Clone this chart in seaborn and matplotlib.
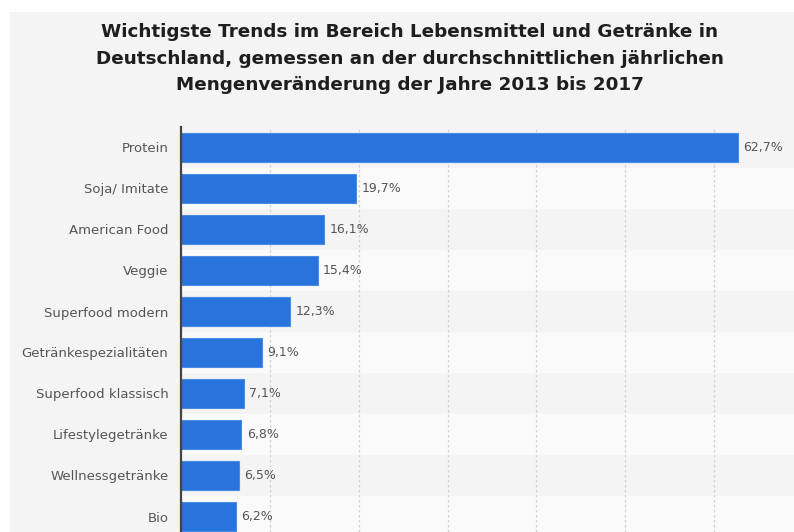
import matplotlib
matplotlib.use("Agg")
import matplotlib.pyplot as plt
from matplotlib.patches import Rectangle
import seaborn as sns
import pandas as pd

categories = [
    "Protein", "Soja/ Imitate", "American Food", "Veggie", "Superfood modern",
    "Getränkespezialitäten", "Superfood klassisch", "Lifestylegetränke",
    "Wellnessgetränke", "Bio",
]
values = [62.7, 19.7, 16.1, 15.4, 12.3, 9.1, 7.1, 6.8, 6.5, 6.2]
value_labels = ["62,7%", "19,7%", "16,1%", "15,4%", "12,3%",
                "9,1%", "7,1%", "6,8%", "6,5%", "6,2%"]
grid_ticks = [10, 20, 30, 40, 50, 60]

title = ("Wichtigste Trends im Bereich Lebensmittel und Getränke in\n"
         "Deutschland, gemessen an der durchschnittlichen jährlichen\n"
         "Mengenveränderung der Jahre 2013 bis 2017")

sns.set_theme(style="white")
plt.rcParams["font.family"] = ["DejaVu Sans"]

W, H = 794, 532
fig = plt.figure(figsize=(W / 100, H / 100), dpi=100, facecolor="white")

# light grey panel behind everything, leaving a thin white margin top/left
panel = "#f4f4f4"
fig.patches.append(Rectangle((10 / W, 0), 1, 1 - 12 / H, transform=fig.transFigure,
                             facecolor=panel, edgecolor="none", zorder=-10))

ax_left, ax_top = 181, 127
ax = fig.add_axes([ax_left / W, 0, (W - ax_left) / W, (H - ax_top) / H])
ax.set_facecolor(panel)

df = pd.DataFrame({"Trend": categories, "Wert": values})
sns.barplot(data=df, x="Wert", y="Trend", orient="h", color="#2874dc",
            saturation=1, width=0.7, edgecolor="#4a8be3", linewidth=0.8,
            ax=ax, zorder=3)

# alternating row shading
for i in range(len(categories)):
    if i % 2 == 1:
        ax.axhspan(i - 0.5, i + 0.5, color="#fafafa", zorder=0, lw=0)

px_per_unit = (738 - ax_left) / 62.7
ax.set_xlim(0, (W - ax_left) / px_per_unit)
row_px = 41
ax.set_ylim(-0.5 + (H - ax_top) / row_px, -0.5)

for x in grid_ticks:
    ax.axvline(x, color="#d2d2d2", lw=0.9, ls=(0, (2, 2)), zorder=1)

for i, (v, lab) in enumerate(zip(values, value_labels)):
    ax.text(v + 0.6, i, lab, va="center", ha="left", fontsize=9,
            color="#555555", zorder=4)

ax.set_xticks([])
ax.set_xlabel("")
ax.set_ylabel("")
ax.tick_params(axis="y", length=0, pad=9, labelsize=9.5, labelcolor="#555555")
for s in ["top", "right", "bottom"]:
    ax.spines[s].set_visible(False)
ax.spines["left"].set_color("#444444")
ax.spines["left"].set_linewidth(1.6)
ax.spines["left"].set_zorder(5)

fig.text(410 / W, 1 - 58.5 / H, title, ha="center", va="center",
         fontsize=13.2, fontweight="bold", color="#1e1e1e", linespacing=1.62)

fig.savefig("out.png", dpi=100, facecolor="white")
